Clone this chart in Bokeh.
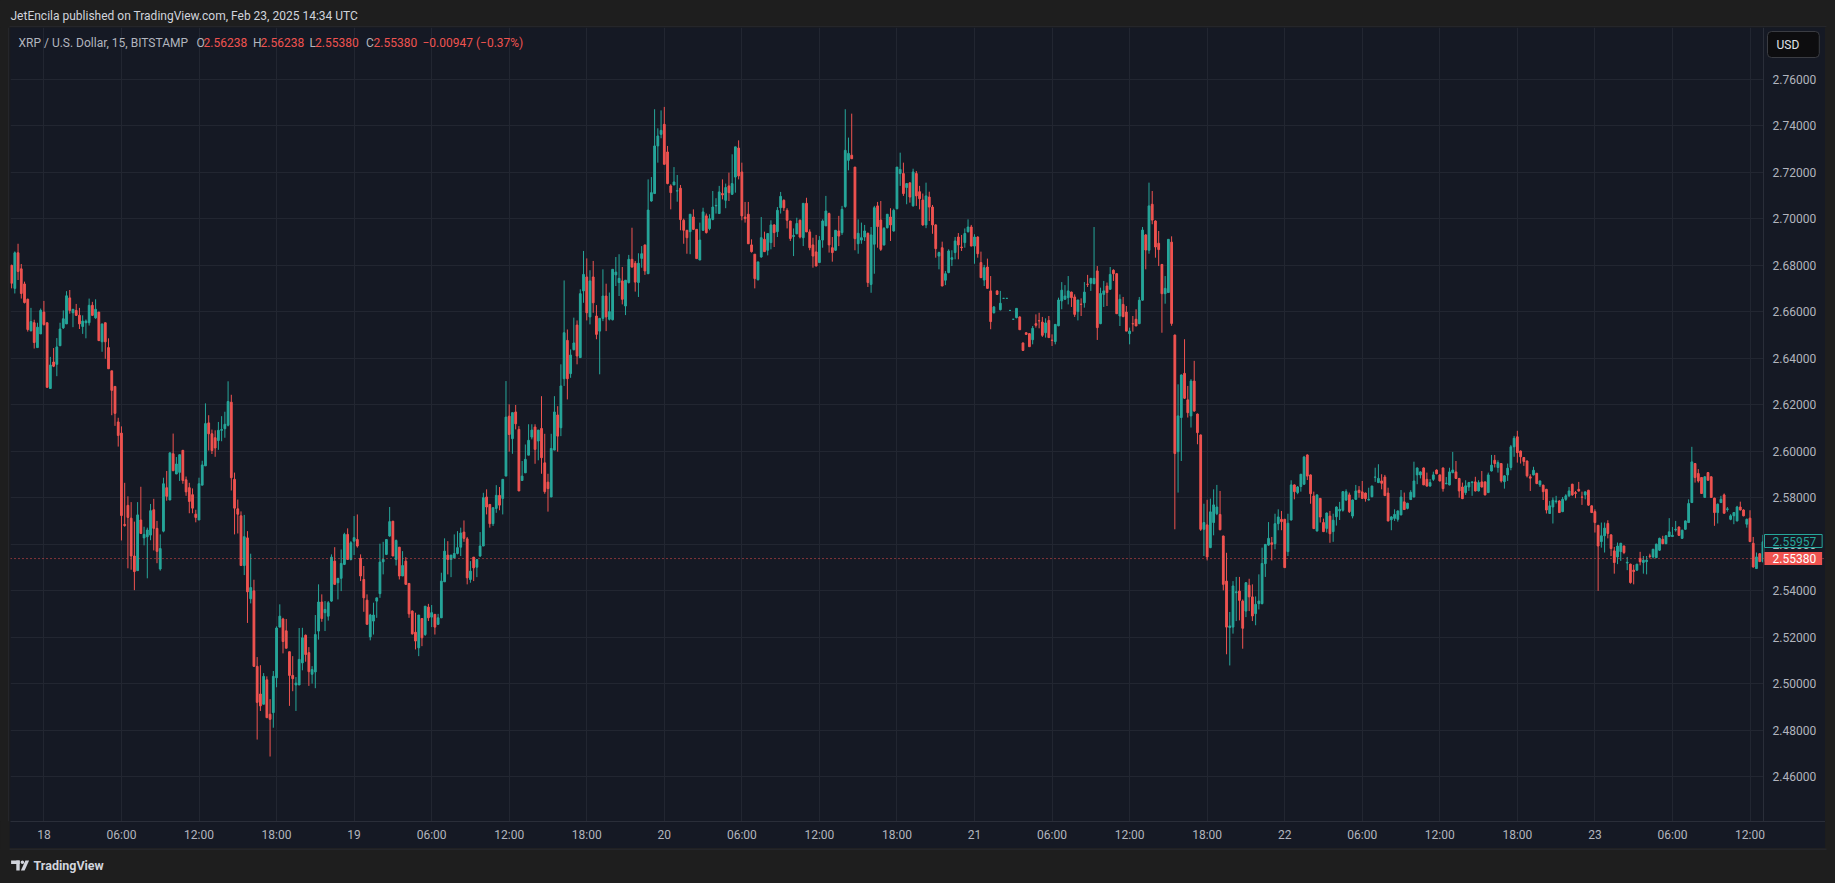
import numpy as np
from bokeh.plotting import figure
from bokeh.models import (Range1d, FixedTicker, Span, Label, ColumnDataSource,
                          PrintfTickFormatter, BoxAnnotation, CustomJS)
from bokeh.layouts import column, row
from bokeh.document import Document
from bokeh.embed import file_html
from bokeh.resources import INLINE

# ---------------- data (XRP/USD, 15-minute candles, Bitstamp) ----------------
# bar 0 = Feb 18 00:00 UTC; first candle is Feb 17 21:30 UTC
first_bar = -10

opens = [
    2.6800, 2.6701, 2.6854, 2.6785, 2.6720, 2.6654, 2.6519, 2.6553, 2.6446, 2.6505,
    2.6599, 2.6553, 2.6270, 2.6384, 2.6374, 2.6454, 2.6531, 2.6548, 2.6660, 2.6596,
    2.6606, 2.6585, 2.6537, 2.6553, 2.6553, 2.6628, 2.6574, 2.6599, 2.6471, 2.6553,
    2.6446, 2.6346, 2.6279, 2.6126, 2.6078, 2.5685, 2.5767, 2.5712, 2.5549, 2.5486,
    2.5704, 2.5627, 2.5632, 2.5639, 2.5748, 2.5668, 2.5493, 2.5656, 2.5843, 2.5790,
    2.5989, 2.5902, 2.5909, 2.6004, 2.5877, 2.5843, 2.5813, 2.5729, 2.5704, 2.5854,
    2.5937, 2.6122, 2.6075, 2.6058, 2.6046, 2.6090, 2.6097, 2.6112, 2.6211, 2.5879,
    2.5752, 2.5722, 2.5508, 2.5627, 2.5365, 2.5399, 2.5074, 2.4955, 2.4911, 2.5016,
    2.4868, 2.4875, 2.5025, 2.5243, 2.5278, 2.5227, 2.5137, 2.5035, 2.4994, 2.4994,
    2.5089, 2.5208, 2.5133, 2.5040, 2.5050, 2.5226, 2.5351, 2.5305, 2.5290, 2.5355,
    2.5527, 2.5434, 2.5453, 2.5513, 2.5642, 2.5534, 2.5613, 2.5620, 2.5539, 2.5448,
    2.5359, 2.5201, 2.5269, 2.5355, 2.5387, 2.5524, 2.5556, 2.5635, 2.5699, 2.5534,
    2.5587, 2.5463, 2.5527, 2.5431, 2.5312, 2.5221, 2.5154, 2.5280, 2.5211, 2.5329,
    2.5286, 2.5298, 2.5255, 2.5283, 2.5438, 2.5553, 2.5534, 2.5541, 2.5560, 2.5587,
    2.5652, 2.5623, 2.5448, 2.5544, 2.5501, 2.5549, 2.5592, 2.5803, 2.5771, 2.5688,
    2.5754, 2.5810, 2.5797, 2.5893, 2.6151, 2.6054, 2.6169, 2.6094, 2.5874, 2.5907,
    2.5983, 2.6061, 2.6104, 2.6044, 2.6098, 2.5950, 2.5867, 2.5803, 2.6005, 2.6156,
    2.6101, 2.6312, 2.6477, 2.6334, 2.6437, 2.6543, 2.6403, 2.6690, 2.6750,
    2.6578, 2.6750, 2.6582, 2.6517, 2.6572, 2.6668, 2.6568, 2.6566, 2.6759, 2.6726,
    2.6733, 2.6625, 2.6726, 2.6826, 2.6809, 2.6726, 2.6830, 2.6888, 2.6764, 2.7077,
    2.7109, 2.7314, 2.7364, 2.7407, 2.7288, 2.7142, 2.7146, 2.7120, 2.7132, 2.6994,
    2.6951, 2.6945, 2.7008, 2.6955, 2.6823, 2.6951, 2.7013, 2.6958, 2.6998, 2.7056,
    2.7023, 2.7109, 2.7080, 2.7142, 2.7106, 2.7180, 2.7305, 2.7202, 2.7008, 2.7020,
    2.6888, 2.6848, 2.6738, 2.6836, 2.6912, 2.6865, 2.6898, 2.6974, 2.6945, 2.7048,
    2.7080, 2.7037, 2.6991, 2.6924, 2.6936, 2.6994, 2.6919, 2.7067, 2.6944, 2.6888,
    2.6858, 2.6812, 2.6909, 2.6970, 2.7023, 2.6876, 2.6865, 2.6948, 2.6941, 2.7053,
    2.7252, 2.7274, 2.7223, 2.6893, 2.6909, 2.6922, 2.6938, 2.6718, 2.6891, 2.7056,
    2.6995, 2.6888, 2.6962, 2.7008, 2.6948, 2.7044, 2.7195, 2.7195, 2.7135, 2.7155,
    2.7056, 2.7195, 2.7117, 2.7081, 2.6974, 2.7094, 2.7051, 2.6974, 2.6840, 2.6876,
    2.6736, 2.6769, 2.6826, 2.6855, 2.6922, 2.6879, 2.6898, 2.6945, 2.6965, 2.6883,
    2.6922, 2.6812, 2.6737, 2.6793, 2.6690, 2.6596, 2.6690, 2.6609, 2.6658, 2.6658,
    2.6606, 2.6568, 2.6575, 2.6578, 2.6466, 2.6510, 2.6506, 2.6480, 2.6549, 2.6562,
    2.6556, 2.6510, 2.6563, 2.6478, 2.6472, 2.6540, 2.6647, 2.6654, 2.6661, 2.6685,
    2.6664, 2.6601, 2.6633, 2.6639, 2.6719, 2.6723, 2.6721, 2.6776, 2.6549, 2.6675,
    2.6711, 2.6697, 2.6779, 2.6764, 2.6582, 2.6632, 2.6599, 2.6506, 2.6549, 2.6568,
    2.6549, 2.6650, 2.6931, 2.6865, 2.7063, 2.6991, 2.6895, 2.6804, 2.6678, 2.6683,
    2.6900, 2.6500, 2.5998, 2.6145, 2.6335, 2.6221, 2.6152, 2.6302, 2.6160, 2.6070,
    2.5664, 2.5683, 2.5585, 2.5693, 2.5731, 2.5728, 2.5635, 2.5441, 2.5241, 2.5243,
    2.5391, 2.5398, 2.5355, 2.5312, 2.5423, 2.5373, 2.5301, 2.5344, 2.5344, 2.5516,
    2.5596, 2.5606, 2.5602, 2.5688, 2.5707, 2.5707, 2.5568, 2.5704, 2.5855, 2.5822,
    2.5848, 2.5858, 2.5984, 2.5898, 2.5807, 2.5657, 2.5797, 2.5693, 2.5668, 2.5721,
    2.5654, 2.5718, 2.5743, 2.5746, 2.5790, 2.5812, 2.5721, 2.5793, 2.5832, 2.5825,
    2.5820, 2.5790, 2.5804, 2.5888, 2.5865, 2.5872, 2.5889, 2.5820, 2.5705, 2.5711,
    2.5707, 2.5726, 2.5782, 2.5754, 2.5792, 2.5803, 2.5898, 2.5898, 2.5928, 2.5879,
    2.5850, 2.5879, 2.5919, 2.5898, 2.5928, 2.5860, 2.5855, 2.5908, 2.5911, 2.5883,
    2.5846, 2.5822, 2.5846, 2.5865, 2.5868, 2.5829, 2.5868, 2.5868, 2.5822, 2.5915,
    2.5961, 2.5930, 2.5947, 2.5869, 2.5898, 2.5930, 2.6019, 2.6062, 2.6001, 2.5973,
    2.5958, 2.5890, 2.5898, 2.5905, 2.5855, 2.5854, 2.5836, 2.5732, 2.5760, 2.5783,
    2.5786, 2.5740, 2.5793, 2.5808, 2.5858, 2.5822, 2.5836, 2.5803, 2.5812, 2.5832,
    2.5765, 2.5740, 2.5681, 2.5611, 2.5636, 2.5689, 2.5640, 2.5571, 2.5545, 2.5568,
    2.5592, 2.5519, 2.5514, 2.5488, 2.5488, 2.5539, 2.5521, 2.5525, 2.5549, 2.5545,
    2.5542, 2.5574, 2.5621, 2.5602, 2.5633, 2.5633, 2.5661, 2.5674, 2.5625, 2.5664,
    2.5693, 2.5779, 2.5947, 2.5904, 2.5887, 2.5801, 2.5908, 2.5890, 2.5798, 2.5736,
    2.5779, 2.5812, 2.5749, 2.5707, 2.5722, 2.5700, 2.5760, 2.5747, 2.5686, 2.5712,
    2.5604, 2.5495, 2.5559, 2.5525,
]

highs = [
    2.6803, 2.6860, 2.6893, 2.6806, 2.6730, 2.6657, 2.6617, 2.6566, 2.6553, 2.6614,
    2.6647, 2.6553, 2.6406, 2.6444, 2.6487, 2.6553, 2.6606, 2.6689, 2.6694, 2.6611,
    2.6634, 2.6617, 2.6585, 2.6567, 2.6657, 2.6643, 2.6654, 2.6599, 2.6548, 2.6553,
    2.6486, 2.6346, 2.6279, 2.6144, 2.6107, 2.5864, 2.5806, 2.5781, 2.5697, 2.5781,
    2.5847, 2.5675, 2.5671, 2.5773, 2.5795, 2.5700, 2.5642, 2.5886, 2.5915, 2.5993,
    2.6076, 2.5975, 2.5985, 2.6004, 2.5891, 2.5864, 2.5840, 2.5748, 2.5886, 2.5959,
    2.6206, 2.6155, 2.6093, 2.6090, 2.6126, 2.6151, 2.6170, 2.6301, 2.6243, 2.5908,
    2.5792, 2.5741, 2.5726, 2.5656, 2.5559, 2.5447, 2.5114, 2.5079, 2.5045, 2.5031,
    2.4933, 2.5054, 2.5246, 2.5341, 2.5283, 2.5278, 2.5137, 2.5118, 2.5028, 2.5239,
    2.5240, 2.5211, 2.5157, 2.5075, 2.5295, 2.5427, 2.5384, 2.5355, 2.5355, 2.5556,
    2.5587, 2.5453, 2.5577, 2.5649, 2.5668, 2.5613, 2.5721, 2.5728, 2.5556, 2.5506,
    2.5384, 2.5300, 2.5348, 2.5369, 2.5602, 2.5610, 2.5620, 2.5760, 2.5699, 2.5620,
    2.5587, 2.5570, 2.5544, 2.5431, 2.5315, 2.5305, 2.5295, 2.5280, 2.5333, 2.5343,
    2.5338, 2.5298, 2.5300, 2.5477, 2.5625, 2.5613, 2.5553, 2.5642, 2.5656, 2.5671,
    2.5702, 2.5631, 2.5527, 2.5544, 2.5534, 2.5652, 2.5821, 2.5836, 2.5771, 2.5757,
    2.5854, 2.5846, 2.5879, 2.6302, 2.6202, 2.6166, 2.6199, 2.6108, 2.5958, 2.6029,
    2.6116, 2.6116, 2.6116, 2.6091, 2.6237, 2.6075, 2.5903, 2.6075, 2.6237, 2.6194,
    2.6374, 2.6735, 2.6524, 2.6438, 2.6575, 2.6563, 2.6697, 2.6862, 2.6830,
    2.6779, 2.6819, 2.6629, 2.6572, 2.6783, 2.6721, 2.6683, 2.6783, 2.6836, 2.6848,
    2.6793, 2.6736, 2.6845, 2.6962, 2.6819, 2.6852, 2.6883, 2.6888, 2.7170, 2.7180,
    2.7472, 2.7390, 2.7467, 2.7482, 2.7314, 2.7149, 2.7223, 2.7189, 2.7146, 2.7001,
    2.6951, 2.7020, 2.7041, 2.6955, 2.6984, 2.7048, 2.7023, 2.7020, 2.7120, 2.7089,
    2.7142, 2.7170, 2.7152, 2.7199, 2.7278, 2.7310, 2.7338, 2.7242, 2.7073, 2.7073,
    2.6912, 2.6848, 2.6815, 2.7008, 2.6945, 2.6937, 2.6994, 2.6977, 2.7051, 2.7116,
    2.7084, 2.7046, 2.6991, 2.6959, 2.7005, 2.6998, 2.7067, 2.7091, 2.6955, 2.6919,
    2.6931, 2.6926, 2.6998, 2.7099, 2.7027, 2.6922, 2.6951, 2.7013, 2.7056, 2.7472,
    2.7350, 2.7453, 2.7223, 2.6998, 2.6984, 2.6974, 2.6941, 2.6965, 2.7056, 2.7073,
    2.7077, 2.6965, 2.7020, 2.7046, 2.7044, 2.7223, 2.7285, 2.7242, 2.7152, 2.7158,
    2.7216, 2.7206, 2.7142, 2.7109, 2.7156, 2.7117, 2.7060, 2.6977, 2.6859, 2.6902,
    2.6776, 2.6869, 2.6865, 2.6922, 2.6939, 2.6931, 2.6959, 2.6998, 2.6974, 2.6934,
    2.6925, 2.6859, 2.6802, 2.6829, 2.6754, 2.6625, 2.6692, 2.6690, 2.6659, 2.6659,
    2.6607, 2.6569, 2.6615, 2.6580, 2.6468, 2.6512, 2.6508, 2.6539, 2.6589, 2.6596,
    2.6578, 2.6572, 2.6582, 2.6503, 2.6546, 2.6661, 2.6728, 2.6715, 2.6754, 2.6687,
    2.6675, 2.6651, 2.6658, 2.6728, 2.6759, 2.6746, 2.6965, 2.6797, 2.6704, 2.6733,
    2.6726, 2.6793, 2.6783, 2.6766, 2.6675, 2.6664, 2.6625, 2.6532, 2.6582, 2.6611,
    2.6664, 2.6965, 2.6934, 2.7156, 2.7120, 2.6994, 2.6948, 2.6806, 2.6754, 2.6912,
    2.6925, 2.6502, 2.6288, 2.6331, 2.6482, 2.6281, 2.6310, 2.6389, 2.6162, 2.6072,
    2.5774, 2.5791, 2.5796, 2.5836, 2.5855, 2.5829, 2.5637, 2.5563, 2.5308, 2.5441,
    2.5459, 2.5459, 2.5362, 2.5437, 2.5451, 2.5427, 2.5375, 2.5470, 2.5585, 2.5599,
    2.5695, 2.5631, 2.5731, 2.5750, 2.5743, 2.5709, 2.5731, 2.5875, 2.5857, 2.5850,
    2.5901, 2.5980, 2.5986, 2.5900, 2.5826, 2.5815, 2.5799, 2.5710, 2.5736, 2.5743,
    2.5731, 2.5762, 2.5782, 2.5828, 2.5836, 2.5822, 2.5792, 2.5855, 2.5850, 2.5872,
    2.5822, 2.5843, 2.5852, 2.5929, 2.5944, 2.5901, 2.5898, 2.5843, 2.5721, 2.5750,
    2.5745, 2.5833, 2.5822, 2.5778, 2.5832, 2.5955, 2.5930, 2.5913, 2.5930, 2.5908,
    2.5880, 2.5912, 2.5922, 2.5900, 2.5930, 2.5889, 2.5929, 2.5997, 2.5958, 2.5885,
    2.5865, 2.5875, 2.5868, 2.5870, 2.5890, 2.5875, 2.5915, 2.5870, 2.5908, 2.5984,
    2.5984, 2.5961, 2.5949, 2.5896, 2.5947, 2.6027, 2.6066, 2.6088, 2.6003, 2.5975,
    2.5960, 2.5901, 2.5933, 2.5907, 2.5874, 2.5856, 2.5838, 2.5786, 2.5801, 2.5808,
    2.5789, 2.5803, 2.5815, 2.5846, 2.5860, 2.5829, 2.5868, 2.5826, 2.5827, 2.5834,
    2.5767, 2.5750, 2.5683, 2.5693, 2.5693, 2.5703, 2.5642, 2.5588, 2.5607, 2.5604,
    2.5594, 2.5545, 2.5516, 2.5511, 2.5514, 2.5567, 2.5549, 2.5549, 2.5559, 2.5580,
    2.5602, 2.5628, 2.5636, 2.5638, 2.5712, 2.5674, 2.5700, 2.5676, 2.5662, 2.5702,
    2.5793, 2.6019, 2.5949, 2.5923, 2.5889, 2.5892, 2.5910, 2.5892, 2.5800, 2.5775,
    2.5808, 2.5818, 2.5760, 2.5729, 2.5738, 2.5765, 2.5783, 2.5750, 2.5710, 2.5746,
    2.5631, 2.5564, 2.5561, 2.5640,
]

lows = [
    2.6701, 2.6679, 2.6737, 2.6657, 2.6636, 2.6515, 2.6515, 2.6442, 2.6446, 2.6505,
    2.6541, 2.6275, 2.6270, 2.6362, 2.6323, 2.6454, 2.6526, 2.6548, 2.6592, 2.6534,
    2.6582, 2.6526, 2.6505, 2.6486, 2.6541, 2.6582, 2.6570, 2.6476, 2.6428, 2.6398,
    2.6355, 2.6155, 2.6109, 2.6020, 2.5616, 2.5675, 2.5496, 2.5490, 2.5402, 2.5486,
    2.5646, 2.5595, 2.5453, 2.5617, 2.5573, 2.5518, 2.5486, 2.5651, 2.5787, 2.5790,
    2.5916, 2.5902, 2.5872, 2.5860, 2.5808, 2.5733, 2.5733, 2.5694, 2.5704, 2.5854,
    2.5937, 2.6003, 2.5988, 2.5976, 2.6006, 2.6043, 2.6058, 2.6107, 2.5831, 2.5642,
    2.5646, 2.5508, 2.5467, 2.5261, 2.5345, 2.5074, 2.4759, 2.4882, 2.4911, 2.4853,
    2.4686, 2.4810, 2.4984, 2.5243, 2.5130, 2.5152, 2.4904, 2.4967, 2.4882, 2.4994,
    2.5057, 2.5094, 2.4990, 2.5000, 2.4980, 2.5189, 2.5266, 2.5226, 2.5271, 2.5352,
    2.5427, 2.5362, 2.5398, 2.5510, 2.5534, 2.5530, 2.5553, 2.5585, 2.5441, 2.5309,
    2.5255, 2.5186, 2.5211, 2.5283, 2.5369, 2.5470, 2.5553, 2.5632, 2.5549, 2.5508,
    2.5448, 2.5463, 2.5427, 2.5283, 2.5211, 2.5147, 2.5118, 2.5161, 2.5205, 2.5269,
    2.5243, 2.5211, 2.5252, 2.5283, 2.5438, 2.5470, 2.5458, 2.5538, 2.5556, 2.5549,
    2.5610, 2.5427, 2.5434, 2.5441, 2.5458, 2.5545, 2.5592, 2.5728, 2.5671, 2.5678,
    2.5735, 2.5746, 2.5728, 2.5893, 2.5998, 2.5989, 2.6094, 2.5829, 2.5874, 2.5907,
    2.5983, 2.6051, 2.5946, 2.5961, 2.5903, 2.5817, 2.5740, 2.5803, 2.6005, 2.5998,
    2.6065, 2.6281, 2.6223, 2.6316, 2.6434, 2.6374, 2.6403, 2.6639, 2.6563,
    2.6546, 2.6596, 2.6482, 2.6331, 2.6560, 2.6517, 2.6563, 2.6563, 2.6711, 2.6668,
    2.6632, 2.6586, 2.6722, 2.6790, 2.6687, 2.6664, 2.6790, 2.6759, 2.6764, 2.7074,
    2.7109, 2.7242, 2.7347, 2.7235, 2.7149, 2.7041, 2.7146, 2.7074, 2.6951, 2.6893,
    2.6850, 2.6848, 2.6952, 2.6829, 2.6823, 2.6948, 2.6937, 2.6951, 2.6994, 2.7023,
    2.7023, 2.7084, 2.7046, 2.7077, 2.7103, 2.7113, 2.7170, 2.6994, 2.6984, 2.6893,
    2.6855, 2.6701, 2.6735, 2.6833, 2.6859, 2.6843, 2.6869, 2.6879, 2.6922, 2.7023,
    2.7034, 2.6959, 2.6905, 2.6840, 2.6934, 2.6916, 2.6883, 2.6944, 2.6865, 2.6790,
    2.6797, 2.6812, 2.6876, 2.6970, 2.6855, 2.6816, 2.6862, 2.6883, 2.6931, 2.7048,
    2.7209, 2.7259, 2.6865, 2.6850, 2.6893, 2.6905, 2.6707, 2.6682, 2.6764, 2.6876,
    2.6862, 2.6885, 2.6959, 2.6905, 2.6945, 2.7041, 2.7142, 2.7099, 2.7063, 2.7070,
    2.7053, 2.7056, 2.7041, 2.6970, 2.6960, 2.6991, 2.6936, 2.6833, 2.6783, 2.6711,
    2.6715, 2.6766, 2.6797, 2.6826, 2.6826, 2.6862, 2.6876, 2.6941, 2.6883, 2.6807,
    2.6833, 2.6747, 2.6711, 2.6701, 2.6525, 2.6593, 2.6673, 2.6606, 2.6657, 2.6657,
    2.6605, 2.6567, 2.6572, 2.6523, 2.6432, 2.6501, 2.6450, 2.6460, 2.6532, 2.6529,
    2.6492, 2.6489, 2.6489, 2.6453, 2.6460, 2.6538, 2.6611, 2.6652, 2.6632, 2.6621,
    2.6578, 2.6563, 2.6582, 2.6618, 2.6707, 2.6690, 2.6719, 2.6479, 2.6547, 2.6621,
    2.6625, 2.6695, 2.6733, 2.6592, 2.6539, 2.6579, 2.6517, 2.6460, 2.6515, 2.6539,
    2.6547, 2.6648, 2.6783, 2.6850, 2.6977, 2.6833, 2.6797, 2.6510, 2.6635, 2.6681,
    2.6540, 2.5664, 2.5822, 2.5958, 2.6225, 2.6145, 2.6102, 2.6170, 2.6030, 2.5657,
    2.5549, 2.5530, 2.5583, 2.5638, 2.5725, 2.5660, 2.5401, 2.5126, 2.5078, 2.5215,
    2.5269, 2.5272, 2.5150, 2.5286, 2.5312, 2.5269, 2.5251, 2.5319, 2.5341, 2.5459,
    2.5593, 2.5530, 2.5578, 2.5660, 2.5660, 2.5499, 2.5549, 2.5702, 2.5793, 2.5815,
    2.5826, 2.5856, 2.5876, 2.5774, 2.5665, 2.5654, 2.5693, 2.5652, 2.5650, 2.5606,
    2.5610, 2.5680, 2.5704, 2.5740, 2.5786, 2.5734, 2.5711, 2.5791, 2.5800, 2.5795,
    2.5783, 2.5788, 2.5802, 2.5868, 2.5863, 2.5836, 2.5807, 2.5698, 2.5660, 2.5700,
    2.5697, 2.5724, 2.5747, 2.5750, 2.5790, 2.5801, 2.5858, 2.5883, 2.5855, 2.5848,
    2.5848, 2.5872, 2.5901, 2.5870, 2.5826, 2.5858, 2.5853, 2.5905, 2.5881, 2.5800,
    2.5794, 2.5812, 2.5829, 2.5808, 2.5827, 2.5827, 2.5844, 2.5810, 2.5820, 2.5913,
    2.5930, 2.5908, 2.5865, 2.5839, 2.5872, 2.5918, 2.5976, 2.5951, 2.5947, 2.5937,
    2.5887, 2.5829, 2.5896, 2.5858, 2.5846, 2.5790, 2.5732, 2.5730, 2.5689, 2.5775,
    2.5734, 2.5738, 2.5786, 2.5803, 2.5808, 2.5798, 2.5826, 2.5769, 2.5793, 2.5765,
    2.5734, 2.5650, 2.5399, 2.5585, 2.5564, 2.5625, 2.5549, 2.5473, 2.5514, 2.5528,
    2.5557, 2.5488, 2.5430, 2.5427, 2.5486, 2.5509, 2.5473, 2.5470, 2.5539, 2.5538,
    2.5540, 2.5571, 2.5600, 2.5600, 2.5631, 2.5631, 2.5654, 2.5635, 2.5623, 2.5662,
    2.5691, 2.5777, 2.5865, 2.5865, 2.5818, 2.5799, 2.5875, 2.5801, 2.5679, 2.5689,
    2.5777, 2.5733, 2.5740, 2.5703, 2.5686, 2.5698, 2.5745, 2.5720, 2.5671, 2.5609,
    2.5499, 2.5493, 2.5523, 2.5521,
]

closes = [
    2.6723, 2.6854, 2.6774, 2.6679, 2.6640, 2.6524, 2.6558, 2.6468, 2.6534, 2.6606,
    2.6545, 2.6275, 2.6371, 2.6366, 2.6449, 2.6526, 2.6570, 2.6669, 2.6606, 2.6611,
    2.6585, 2.6548, 2.6560, 2.6560, 2.6628, 2.6585, 2.6611, 2.6476, 2.6548, 2.6471,
    2.6355, 2.6262, 2.6163, 2.6068, 2.5723, 2.5680, 2.5715, 2.5549, 2.5482, 2.5726,
    2.5646, 2.5642, 2.5661, 2.5744, 2.5668, 2.5569, 2.5581, 2.5860, 2.5806, 2.5993,
    2.5916, 2.5945, 2.5985, 2.5874, 2.5825, 2.5784, 2.5755, 2.5715, 2.5860, 2.5941,
    2.6119, 2.6075, 2.6003, 2.6014, 2.6090, 2.6093, 2.6116, 2.6214, 2.5886, 2.5755,
    2.5729, 2.5508, 2.5632, 2.5395, 2.5413, 2.5074, 2.4919, 2.4904, 2.5031, 2.4853,
    2.4846, 2.5031, 2.5239, 2.5290, 2.5181, 2.5152, 2.5035, 2.5021, 2.5002, 2.5104,
    2.5197, 2.5125, 2.5051, 2.5060, 2.5211, 2.5351, 2.5280, 2.5319, 2.5348, 2.5544,
    2.5427, 2.5453, 2.5517, 2.5642, 2.5534, 2.5606, 2.5628, 2.5592, 2.5463, 2.5369,
    2.5255, 2.5295, 2.5295, 2.5369, 2.5523, 2.5534, 2.5620, 2.5697, 2.5549, 2.5616,
    2.5463, 2.5508, 2.5427, 2.5300, 2.5214, 2.5183, 2.5295, 2.5197, 2.5333, 2.5283,
    2.5305, 2.5243, 2.5283, 2.5441, 2.5570, 2.5534, 2.5553, 2.5560, 2.5585, 2.5648,
    2.5625, 2.5455, 2.5484, 2.5498, 2.5534, 2.5592, 2.5800, 2.5760, 2.5688, 2.5757,
    2.5810, 2.5768, 2.5879, 2.6147, 2.6072, 2.6166, 2.6118, 2.5829, 2.5893, 2.5965,
    2.6047, 2.6091, 2.6008, 2.6091, 2.5972, 2.5826, 2.5839, 2.6012, 2.6169, 2.6065,
    2.6281, 2.6510, 2.6312, 2.6414, 2.6466, 2.6410, 2.6678, 2.6761, 2.6596,
    2.6733, 2.6639, 2.6503, 2.6572, 2.6668, 2.6578, 2.6601, 2.6783, 2.6771, 2.6744,
    2.6654, 2.6736, 2.6826, 2.6793, 2.6728, 2.6809, 2.6850, 2.6776, 2.7038, 2.7113,
    2.7314, 2.7357, 2.7381, 2.7235, 2.7152, 2.7113, 2.7159, 2.7121, 2.6997, 2.6951,
    2.6919, 2.7020, 2.6955, 2.6829, 2.6909, 2.7030, 2.6941, 2.7001, 2.7051, 2.7058,
    2.7116, 2.7103, 2.7135, 2.7113, 2.7152, 2.7310, 2.7185, 2.7013, 2.7001, 2.6893,
    2.6859, 2.6743, 2.6815, 2.6919, 2.6859, 2.6937, 2.6974, 2.6941, 2.7037, 2.7097,
    2.7048, 2.6994, 2.6916, 2.6929, 2.6980, 2.6922, 2.7067, 2.6944, 2.6876, 2.6840,
    2.6797, 2.6908, 2.6991, 2.7034, 2.6888, 2.6855, 2.6951, 2.6926, 2.7041, 2.7295,
    2.7282, 2.7259, 2.6915, 2.6938, 2.6919, 2.6948, 2.6726, 2.6931, 2.7048, 2.6967,
    2.6869, 2.6959, 2.7020, 2.6974, 2.7037, 2.7223, 2.7213, 2.7109, 2.7152, 2.7094,
    2.7202, 2.7099, 2.7087, 2.6974, 2.7099, 2.7051, 2.6974, 2.6872, 2.6855, 2.6711,
    2.6764, 2.6862, 2.6833, 2.6905, 2.6888, 2.6876, 2.6937, 2.6965, 2.6883, 2.6922,
    2.6850, 2.6747, 2.6790, 2.6701, 2.6558, 2.6621, 2.6675, 2.6637, 2.6658, 2.6658,
    2.6606, 2.6568, 2.6615, 2.6523, 2.6434, 2.6503, 2.6450, 2.6529, 2.6542, 2.6561,
    2.6499, 2.6552, 2.6489, 2.6477, 2.6546, 2.6651, 2.6693, 2.6668, 2.6690, 2.6661,
    2.6589, 2.6651, 2.6632, 2.6685, 2.6718, 2.6744, 2.6744, 2.6532, 2.6679, 2.6690,
    2.6683, 2.6761, 2.6764, 2.6592, 2.6654, 2.6579, 2.6517, 2.6517, 2.6548, 2.6539,
    2.6650, 2.6952, 2.6866, 2.7056, 2.6995, 2.6879, 2.6868, 2.6678, 2.6701, 2.6912,
    2.6550, 2.5990, 2.6152, 2.6328, 2.6228, 2.6166, 2.6302, 2.6173, 2.6080, 2.5664,
    2.5693, 2.5545, 2.5739, 2.5769, 2.5760, 2.5662, 2.5427, 2.5243, 2.5248, 2.5420,
    2.5395, 2.5358, 2.5238, 2.5434, 2.5373, 2.5291, 2.5341, 2.5355, 2.5517, 2.5599,
    2.5625, 2.5599, 2.5688, 2.5717, 2.5697, 2.5499, 2.5690, 2.5855, 2.5826, 2.5846,
    2.5901, 2.5975, 2.5893, 2.5817, 2.5667, 2.5812, 2.5717, 2.5654, 2.5734, 2.5645,
    2.5703, 2.5760, 2.5750, 2.5826, 2.5826, 2.5740, 2.5790, 2.5829, 2.5822, 2.5797,
    2.5796, 2.5793, 2.5850, 2.5889, 2.5883, 2.5862, 2.5809, 2.5700, 2.5717, 2.5728,
    2.5743, 2.5803, 2.5749, 2.5776, 2.5823, 2.5872, 2.5928, 2.5911, 2.5855, 2.5850,
    2.5865, 2.5898, 2.5903, 2.5872, 2.5839, 2.5862, 2.5911, 2.5919, 2.5883, 2.5829,
    2.5796, 2.5851, 2.5865, 2.5868, 2.5829, 2.5865, 2.5846, 2.5812, 2.5898, 2.5940,
    2.5947, 2.5951, 2.5872, 2.5894, 2.5927, 2.6019, 2.6056, 2.5994, 2.5976, 2.5956,
    2.5894, 2.5884, 2.5918, 2.5861, 2.5872, 2.5826, 2.5747, 2.5765, 2.5789, 2.5786,
    2.5736, 2.5793, 2.5808, 2.5829, 2.5812, 2.5818, 2.5829, 2.5802, 2.5825, 2.5768,
    2.5736, 2.5693, 2.5592, 2.5636, 2.5669, 2.5646, 2.5581, 2.5521, 2.5592, 2.5604,
    2.5564, 2.5522, 2.5435, 2.5482, 2.5514, 2.5524, 2.5531, 2.5531, 2.5548, 2.5578,
    2.5600, 2.5625, 2.5602, 2.5636, 2.5653, 2.5638, 2.5664, 2.5638, 2.5660, 2.5700,
    2.5775, 2.5954, 2.5887, 2.5872, 2.5818, 2.5890, 2.5875, 2.5801, 2.5736, 2.5772,
    2.5793, 2.5733, 2.5752, 2.5722, 2.5736, 2.5760, 2.5747, 2.5722, 2.5707, 2.5611,
    2.5502, 2.5545, 2.5525, 2.5610,
]

# time axis: one tick every 6 hours (24 bars), bar 0 = Feb 18 00:00
tick_labels = ["18", "06:00", "12:00", "18:00", "19", "06:00", "12:00", "18:00",
               "20", "06:00", "12:00", "18:00", "21", "06:00", "12:00", "18:00",
               "22", "06:00", "12:00", "18:00", "23", "06:00", "12:00"]
bars_per_tick = 24
price_ticks = [2.46, 2.48, 2.50, 2.52, 2.54, 2.56, 2.58, 2.60,
               2.62, 2.64, 2.66, 2.68, 2.70, 2.72, 2.74, 2.76]

last_price = 2.55380
other_price = 2.55957
symbol_text = "XRP / U.S. Dollar, 15, BITSTAMP"
legend_o, legend_h, legend_l, legend_c = "2.56238", "2.56238", "2.55380", "2.55380"
legend_change = "\u22120.00947 (\u22120.37%)"
header_text = "JetEncila published on TradingView.com, Feb 23, 2025 14:34 UTC"

# ---------------- style ----------------
FONT = "Roboto"
UP, DOWN = "#26a69a", "#ef5350"
PANE = "#151924"
OUTER = "#1e1e1e"
FRAME = "#2c2f36"
GRID = "#222631"
DIVIDER = "#2a2e39"
AXIS_TEXT = "#b2b5be"
LIGHT = "#d1d4dc"

W = 1835
n = len(closes)
assert len(opens) == len(highs) == len(lows) == n

bars = np.arange(n) + first_bar
o = np.array(opens); c = np.array(closes)
colors = [UP if cc >= oo else DOWN for oo, cc in zip(opens, closes)]
src = ColumnDataSource(dict(x=bars, h=highs, l=lows,
                            top=np.maximum(o, c), bottom=np.minimum(o, c),
                            color=colors))
tick_bars = [k * bars_per_tick for k in range(len(tick_labels))]

PX_PER_BAR = 3.23125           # horizontal scale of the reference
X0 = -10.337                   # bar at the left edge of the pane
X_SCALE_EDGE = X0 + 1753 / PX_PER_BAR   # where the price scale begins
X1 = X0 + 1815 / PX_PER_BAR             # right edge of the price scale


def strip(width, height, xr, yr):
    f = figure(width=width, height=height, x_range=xr, y_range=yr,
               output_backend="svg", toolbar_location=None,
               x_axis_location=None, y_axis_location=None, min_border=0,
               background_fill_color=OUTER, border_fill_color=OUTER,
               outline_line_color=None)
    f.grid.visible = False
    return f

# ---------------- header strip ----------------
hdr = strip(W, 27, Range1d(0, W), Range1d(27, 0))
hdr.add_layout(Label(x=10, y=15, text=header_text, text_font=FONT,
                     text_font_size="12px", text_color=LIGHT,
                     text_baseline="middle", text_align="left"))
hdr.segment(x0=[9], y0=[26.5], x1=[1826], y1=[26.5], line_color=FRAME, line_width=1)

# ---------------- main chart ----------------
p = figure(width=1816, height=821,
           x_range=Range1d(X0, X1), y_range=Range1d(2.44063, 2.78238),
           output_backend="svg", toolbar_location=None, y_axis_location="right",
           min_border_left=1, min_border_right=0, min_border_top=0,
           min_border_bottom=27,
           background_fill_color=PANE, border_fill_color=PANE,
           outline_line_color=None)

p.xaxis.ticker = FixedTicker(ticks=tick_bars)
p.xaxis.major_label_overrides = {b: lab for b, lab in zip(tick_bars, tick_labels)}
p.yaxis.ticker = FixedTicker(ticks=price_ticks)
p.yaxis.formatter = PrintfTickFormatter(format="%.5f")
for ax in (p.xaxis[0], p.yaxis[0]):
    ax.major_label_text_font = FONT
    ax.major_label_text_font_size = "12px"
    ax.major_label_text_color = AXIS_TEXT
    ax.major_tick_out = 0
    ax.major_tick_in = 0
    ax.minor_tick_out = 0
    ax.minor_tick_in = 0
    ax.axis_line_color = DIVIDER
    ax.axis_line_width = 1
p.yaxis.axis_line_color = FRAME
p.xaxis.major_label_standoff = 6
p.yaxis.major_label_standoff = -53      # labels sit inside the price-scale strip
p.xgrid.grid_line_color = GRID
p.ygrid.grid_line_color = GRID

# price-scale strip (covers grid lines), its divider
p.add_layout(BoxAnnotation(left=X_SCALE_EDGE, fill_color=PANE, fill_alpha=1.0,
                           line_color=None, level="underlay"))
p.add_layout(Span(location=X_SCALE_EDGE, dimension="height",
                  line_color=DIVIDER, line_width=1))

p.segment(x0="x", y0="h", x1="x", y1="l", source=src, line_color="color", line_width=1)
p.vbar(x="x", width=0.55, top="top", bottom="bottom", source=src,
       fill_color="color", line_color="color", line_width=1)

p.add_layout(Span(location=last_price, dimension="width", line_color=DOWN,
                  line_width=1, line_dash="1 3"))

# legend line (top-left of the pane)
def legend(x, text, color):
    p.add_layout(Label(x=x, y=779, x_units="screen", y_units="screen", text=text,
                       text_font=FONT, text_font_size="12px", text_color=color,
                       text_baseline="middle", text_align="left"))

legend(8, symbol_text, AXIS_TEXT)
legend(186, "O", AXIS_TEXT); legend(193, legend_o, DOWN)
legend(242.5, "H", AXIS_TEXT); legend(250, legend_h, DOWN)
legend(299, "L", AXIS_TEXT); legend(304.5, legend_l, DOWN)
legend(355.5, "C", AXIS_TEXT); legend(363, legend_c, DOWN)
legend(412, legend_change, DOWN)

# price-scale labels (x = left edge of each box)
p.add_layout(Label(x=1754, y=280.5, x_units="screen", y_units="screen",
                   text="%.5f" % other_price, text_font=FONT, text_font_size="12px",
                   text_color=UP, background_fill_color=PANE,
                   border_line_color=UP, border_line_width=1,
                   text_baseline="middle", text_align="left",
                   padding=dict(left=8, right=6, top=2, bottom=2)))
p.add_layout(Label(x=1754, y=last_price, x_units="screen", y_units="data",
                   text="%.5f" % last_price, text_font=FONT, text_font_size="12px",
                   text_color="#ffffff", background_fill_color=DOWN,
                   text_baseline="middle", text_align="left",
                   padding=dict(left=8, right=6, top=2, bottom=2)))
p.add_layout(Label(x=1757, y=777, x_units="screen", y_units="screen",
                   text="USD", text_font=FONT, text_font_size="12px",
                   text_color="#e0e3eb", background_fill_color="#0d0d0f",
                   border_line_color="#3a3c42", border_line_width=1, border_radius=4,
                   text_baseline="middle", text_align="left",
                   padding=dict(left=9, right=20, top=6, bottom=6)))

left_strip = strip(9, 821, Range1d(0, 9), Range1d(0, 1))
left_strip.add_layout(Span(location=8.5, dimension="height", line_color=FRAME, line_width=1))
right_strip = strip(10, 821, Range1d(0, 10), Range1d(0, 1))

# ---------------- footer strip ----------------
ftr = strip(W, 35, Range1d(0, W), Range1d(883, 848))
ftr.segment(x0=[9], y0=[848.5], x1=[1826], y1=[848.5], line_color=FRAME, line_width=1)
# TradingView logo mark
ftr.quad(left=[10.6, 15.8], right=[19.2, 19.2], top=[860, 860], bottom=[863.4, 870],
         fill_color=LIGHT, line_color=None)
ftr.scatter(x=[21.9], y=[861.8], size=3.6, fill_color=LIGHT, line_color=None)
ftr.patch(x=[20.4, 24.9, 28.6, 24.1], y=[870, 860, 860, 870],
          fill_color=LIGHT, line_color=None)
ftr.add_layout(Label(x=33, y=865, text="TradingView", text_font=FONT,
                     text_font_size="12.5px", text_font_style="bold",
                     text_color=LIGHT, text_baseline="middle", text_align="left"))

layout = column(hdr, row(left_strip, p, right_strip, spacing=0), ftr, spacing=0)

doc = Document()
doc.add_root(layout)
try:
    doc.js_on_event("document_ready", CustomJS(code=(
        "document.documentElement.style.background = '#1e1e1e';"
        "document.body.style.background = '#1e1e1e';")))
except Exception:
    pass

open("out.html", "w").write(file_html(layout, INLINE))
